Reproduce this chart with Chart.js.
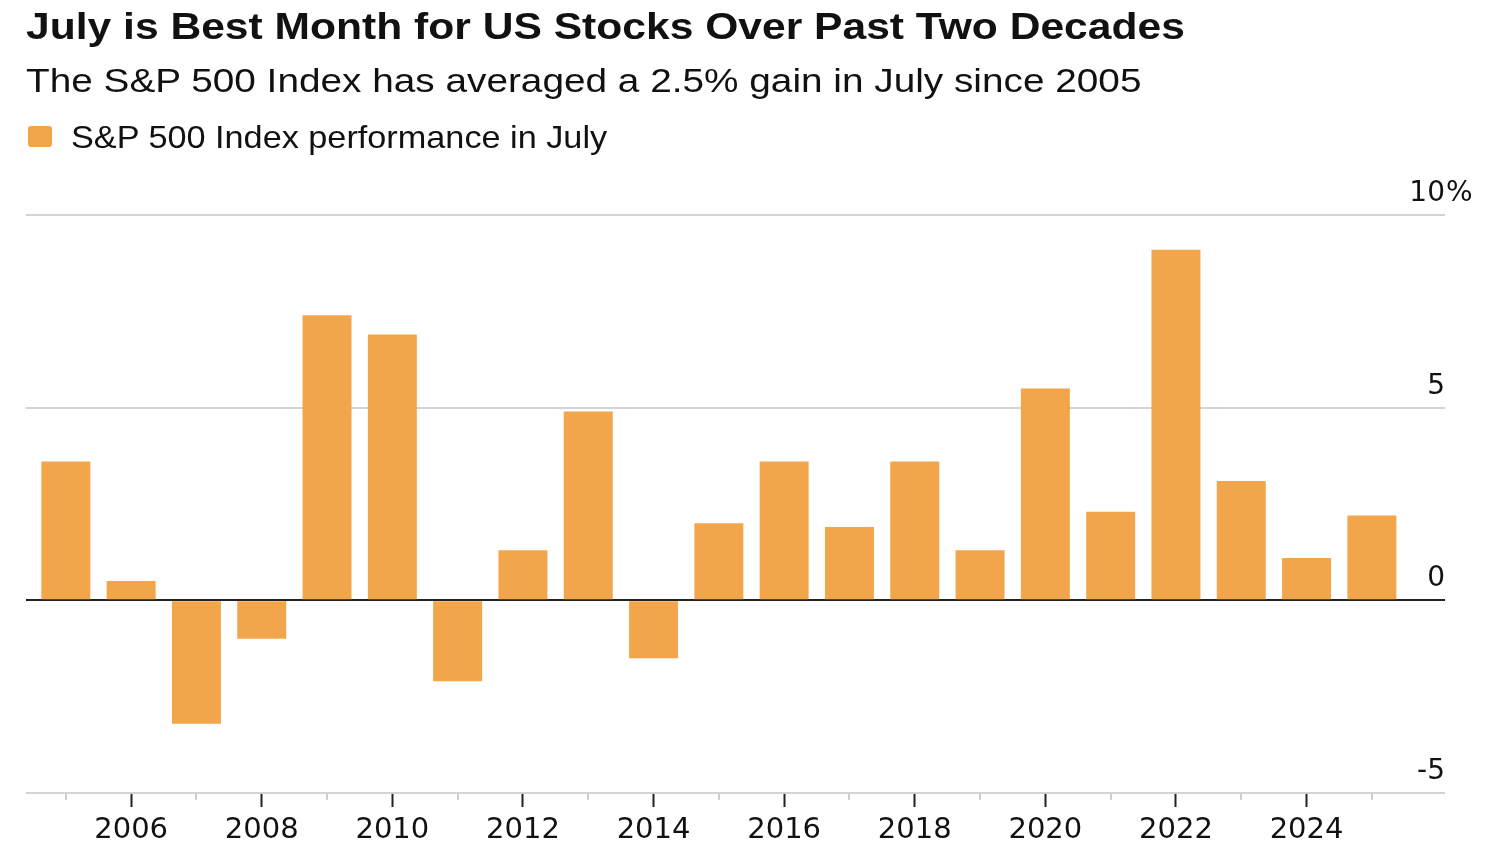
<!DOCTYPE html>
<html>
<head>
<meta charset="utf-8">
<script src="https://cdn.jsdelivr.net/npm/chart.js@4.4.1/dist/chart.umd.min.js"></script>
<style>
  body { margin: 0; background: #fff; font-family: "Liberation Sans", Arial, sans-serif; color: #111; }
  #wrap { position: relative; width: 1500px; height: 850px; overflow: hidden; }
  #chart { position: absolute; left: 0; top: 0; }
  .txt { position: absolute; left: 26px; line-height: 1; white-space: nowrap; transform-origin: 0 0; }
  .title { top: 9px; font-size: 36px; font-weight: bold; transform: scaleX(1.183); }
  .subtitle { top: 63px; font-size: 34px; transform: scaleX(1.14); }
  .legend { left: 71px; top: 121px; font-size: 32px; transform: scaleX(1.07); }
  .box { position: absolute; left: 28px; top: 126px; width: 24px; height: 21px; border-radius: 3px; background: #f2a54a; }
</style>
</head>
<body>
<div id="wrap">
  <canvas id="chart" width="1500" height="850"></canvas>
  <div class="txt title">July is Best Month for US Stocks Over Past Two Decades</div>
  <div class="txt subtitle">The S&amp;P 500 Index has averaged a 2.5% gain in July since 2005</div>
  <span class="box"></span>
  <div class="txt legend">S&amp;P 500 Index performance in July</div>
</div>
<script>
const years = [2005, 2006, 2007, 2008, 2009, 2010, 2011, 2012, 2013, 2014, 2015,
  2016, 2017, 2018, 2019, 2020, 2021, 2022, 2023, 2024, 2025]
const julyReturns = [3.6, 0.5, -3.2, -1.0, 7.4, 6.9, -2.1, 1.3, 4.9, -1.5, 2.0,
  3.6, 1.9, 3.6, 1.3, 5.5, 2.3, 9.1, 3.1, 1.1, 2.2]
const yTicks = [-5, 0, 5, 10]

const barColor = '#f2a54a'
const axisFont = '"DejaVu Sans", sans-serif'

// y labels sit above their gridline, right aligned at the end of the line,
// odd years get a short light tick
const axisExtras = {
  id: 'axisExtras',
  afterDraw (chart) {
    const { ctx, chartArea, scales } = chart
    ctx.save()
    ctx.font = '28px ' + axisFont
    ctx.fillStyle = '#111'
    ctx.textBaseline = 'alphabetic'
    yTicks.forEach(v => {
      const py = scales.y.getPixelForValue(v) - 14
      ctx.textAlign = 'right'
      ctx.fillText(String(v), chartArea.right, py)
      if (v === yTicks[yTicks.length - 1]) {
        ctx.textAlign = 'left'
        ctx.fillText('%', chartArea.right + 1, py)
      }
    })
    ctx.strokeStyle = '#cfcfcf'
    ctx.lineWidth = 2
    years.filter(yr => yr % 2 === 1).forEach(yr => {
      const px = Math.round(scales.x.getPixelForValue(yr))
      ctx.beginPath()
      ctx.moveTo(px, chartArea.bottom)
      ctx.lineTo(px, chartArea.bottom + 7)
      ctx.stroke()
    })
    ctx.restore()
  }
}

new Chart(document.getElementById('chart').getContext('2d'), {
  type: 'bar',
  data: {
    datasets: [{
      data: years.map((yr, i) => ({ x: yr, y: julyReturns[i] })),
      backgroundColor: barColor,
      borderWidth: 0,
      categoryPercentage: 1,
      barPercentage: 0.75
    }]
  },
  options: {
    responsive: false,
    animation: false,
    layout: { padding: { left: 26, right: 55, top: 215, bottom: -4 } },
    plugins: {
      legend: { display: false },
      tooltip: { enabled: false }
    },
    scales: {
      x: {
        type: 'linear',
        offset: false,
        min: 2004.39,
        max: 2026.12,
        afterBuildTicks: axis => { axis.ticks = years.map(v => ({ value: v })) },
        border: { display: false },
        grid: {
          offset: false,
          drawOnChartArea: false,
          drawTicks: true,
          tickLength: 14,
          tickWidth: 2,
          tickColor: ctx => (ctx.tick && ctx.tick.value % 2 === 0) ? '#222' : 'rgba(0,0,0,0)'
        },
        ticks: {
          autoSkip: false,
          maxRotation: 0,
          padding: 9,
          color: '#111',
          font: { family: axisFont, size: 29, lineHeight: 1 },
          callback: v => (v % 2 === 0 ? String(v) : '')
        }
      },
      y: {
        min: -5,
        max: 10,
        afterBuildTicks: axis => { axis.ticks = yTicks.map(v => ({ value: v })) },
        border: { display: false },
        grid: {
          drawTicks: false,
          color: ctx => (ctx.tick && ctx.tick.value === 0) ? '#222' : '#d4d4d4',
          lineWidth: 2
        },
        ticks: { display: false }
      }
    }
  },
  plugins: [axisExtras]
})
</script>
</body>
</html>
